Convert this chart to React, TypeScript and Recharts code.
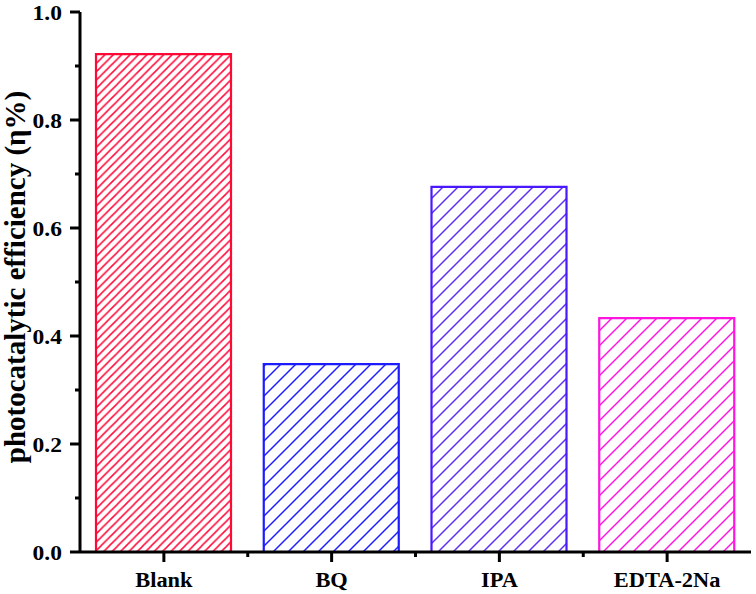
import React from 'react';
import { BarChart, Bar, XAxis, YAxis, Cell } from 'recharts';

const categories = ['Blank', 'BQ', 'IPA', 'EDTA-2Na'];
const efficiency = [0.922, 0.348, 0.676, 0.433];
const yTicks = [0, 0.1, 0.2, 0.3, 0.4, 0.5, 0.6, 0.7, 0.8, 0.9, 1.0];
const yLabels = ['0.0', '0.2', '0.4', '0.6', '0.8', '1.0'];

const FONT = "'Liberation Serif', 'Times New Roman', serif";

// one look per bar: outline colour, hatch colour, hatch spacing
const looks = [
  { id: 'hBlank', stroke: '#ff0a36', hatch: '#ff0a3a', gap: 8.4 },
  { id: 'hBQ', stroke: '#1c1cff', hatch: '#2020ff', gap: 15 },
  { id: 'hIPA', stroke: '#4a18ff', hatch: '#6030f2', gap: 15 },
  { id: 'hEDTA', stroke: '#ff14e0', hatch: '#ff18de', gap: 15 },
];

const data = categories.map((name, i) => ({ name, value: efficiency[i] }));

// the reference lettering is a little wider than the plain font
const wide = (x: number, y: number) => `translate(${x} ${y}) scale(1.12 1) translate(${-x} ${-y})`;

function YTick(props: any) {
  const { x, y, payload } = props;
  const v = Number(payload.value);
  const label = yLabels.find(l => Math.abs(Number(l) - v) < 1e-6);
  const len = label ? 10 : 5;
  const tx = x - 18;
  return (
    <g>
      <line x1={x - len} x2={x} y1={y} y2={y} stroke="#000" strokeWidth={3} />
      {label && (
        <text x={tx} y={y} dy="0.36em" textAnchor="end" transform={wide(tx, y)} fontFamily={FONT} fontWeight="bold" fontSize={21} fill="#000">
          {label}
        </text>
      )}
    </g>
  );
}

function XTick(props: any) {
  const { x, y, payload, index, visibleTicksCount } = props;
  const count = visibleTicksCount || categories.length;
  const band = (props.width || 671) / count;
  const ty = y + 35;
  return (
    <g>
      <line x1={x} x2={x} y1={y} y2={y + 10} stroke="#000" strokeWidth={3} />
      {index < count - 1 && (
        <line x1={x + band / 2} x2={x + band / 2} y1={y} y2={y + 5} stroke="#000" strokeWidth={3} />
      )}
      <text x={x} y={ty} textAnchor="middle" transform={wide(x, ty)} fontFamily={FONT} fontWeight="bold" fontSize={20} fill="#000">
        {payload.value}
      </text>
    </g>
  );
}

function YLabel(props: any) {
  const vb = props.viewBox || { x: 0, y: 12, width: 80, height: 540 };
  const cx = vb.x + 15;
  const cy = vb.y + vb.height / 2 - 5;
  return (
    <text
      x={cx}
      y={cy}
      transform={`rotate(-90 ${cx} ${cy})`}
      textAnchor="middle"
      dominantBaseline="central"
      fontFamily={FONT}
      fontWeight="bold"
      fontSize={29}
      fill="#000"
    >
      photocatalytic efficiency (η%)
    </text>
  );
}

export default function App() {
  return (
    <div style={{ position: 'fixed', left: 0, top: 0, background: '#fff' }}>
      <BarChart width={756} height={594} data={data} margin={{ top: 12, right: 5, left: 0, bottom: 0 }}>
        <defs>
          {looks.map(l => (
            <pattern key={l.id} id={l.id} patternUnits="userSpaceOnUse" width={l.gap} height={l.gap}>
              <path
                d={`M0,${l.gap} L${l.gap},0 M${-l.gap / 2},${l.gap / 2} L${l.gap / 2},${-l.gap / 2} M${l.gap / 2},${l.gap * 1.5} L${l.gap * 1.5},${l.gap / 2}`}
                stroke={l.hatch}
                strokeWidth={1.5}
              />
            </pattern>
          ))}
        </defs>
        <XAxis
          dataKey="name"
          tick={<XTick />}
          tickLine={false}
          tickSize={0}
          tickMargin={0}
          height={42}
          axisLine={{ stroke: '#000', strokeWidth: 3 }}
          interval={0}
        />
        <XAxis xAxisId="top" dataKey="name" orientation="top" height={0} tick={false} tickLine={false} axisLine={{ stroke: '#000', strokeWidth: 3 }} />
        <YAxis
          domain={[0, 1]}
          ticks={yTicks}
          tick={<YTick />}
          tickLine={false}
          tickSize={0}
          tickMargin={0}
          width={80}
          interval={0}
          axisLine={{ stroke: '#000', strokeWidth: 3 }}
          label={{ content: <YLabel /> }}
        />
        <YAxis yAxisId="right" orientation="right" domain={[0, 1]} width={0} tick={false} tickLine={false} axisLine={{ stroke: '#000', strokeWidth: 3 }} />
        <Bar dataKey="value" barSize={135} isAnimationActive={false} strokeWidth={2.2}>
          {data.map((d, i) => (
            <Cell key={d.name} fill={`url(#${looks[i].id})`} stroke={looks[i].stroke} />
          ))}
        </Bar>
      </BarChart>
    </div>
  );
}
